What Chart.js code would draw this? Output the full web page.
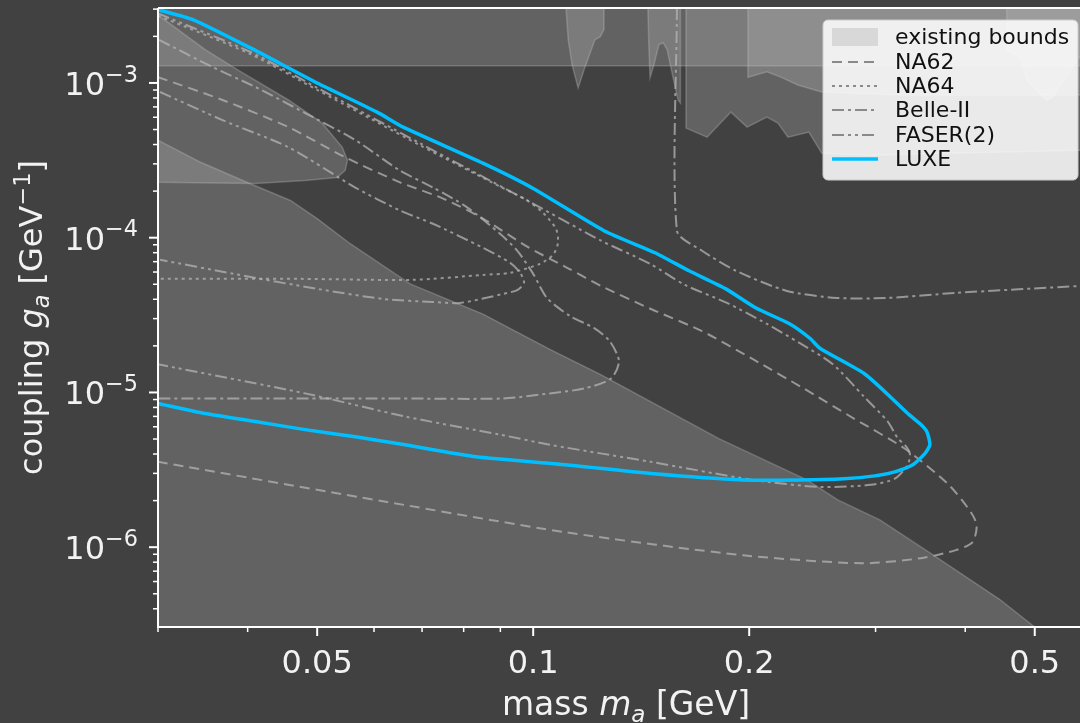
<!DOCTYPE html>
<html>
<head>
<meta charset="utf-8">
<script src="https://cdn.jsdelivr.net/npm/chart.js@4.4.0/dist/chart.umd.min.js"></script>
<style>
  html, body { margin: 0; padding: 0; background: #414141; overflow: hidden; }
  #wrap { width: 1080px; height: 723px; overflow: hidden; }
</style>
</head>
<body>
<div id="wrap"><canvas id="chart" width="1082" height="723"></canvas></div>
<script>
// axis ranges and ticks
const massMin = 0.03;
const massMax = 0.58;
const couplingMin = 3.05e-7;
const couplingMax = 3.05e-3;
const xMajorTicks = [0.05, 0.1, 0.2, 0.5];
const xTickLabels = ['0.05', '0.1', '0.2', '0.5'];
const xMinorTicks = [0.03, 0.04, 0.06, 0.07, 0.08, 0.09, 0.3, 0.4];
const yMajorTicks = [1e-3, 1e-4, 1e-5, 1e-6];
const yTickExponents = ['\u22123', '\u22124', '\u22125', '\u22126'];

const legendLabels = ['existing bounds', 'NA62', 'NA64', 'Belle-II', 'FASER(2)', 'LUXE'];

// LUXE projected reach (closed contour)
const luxeMass = [0.0300, 0.0336, 0.0403, 0.0500, 0.0606, 0.0659, 0.0851, 0.1000, 0.1255, 0.1478, 0.1649, 0.1856, 0.2044, 0.2279, 0.2430, 0.2509, 0.2889, 0.3120, 0.3327, 0.3458, 0.3537, 0.3571, 0.3514, 0.3381, 0.3191, 0.2993, 0.2710, 0.2353, 0.1961, 0.1473, 0.1108, 0.0833, 0.0663, 0.0565, 0.0481, 0.0410, 0.0349, 0.0300];
const luxeCoupling = [2.98e-3, 2.56e-3, 1.69e-3, 1.0e-3, 6.48e-4, 5.18e-4, 3.03e-4, 2.08e-4, 1.11e-4, 7.99e-5, 6.11e-5, 4.67e-5, 3.51e-5, 2.77e-5, 2.24e-5, 1.93e-5, 1.33e-5, 9.71e-6, 7.31e-6, 6.29e-6, 5.58e-6, 4.59e-6, 4.02e-6, 3.41e-6, 3.07e-6, 2.89e-6, 2.77e-6, 2.72e-6, 2.72e-6, 2.98e-6, 3.41e-6, 3.84e-6, 4.59e-6, 5.18e-6, 5.75e-6, 6.49e-6, 7.31e-6, 8.49e-6];

// NA62
const na62Mass = [0.0300, 0.0369, 0.0456, 0.0547, 0.0652, 0.0749, 0.0851, 0.0981, 0.1115, 0.1243, 0.1459, 0.1719, 0.2024, 0.2383, 0.2799, 0.3296, 0.3795, 0.4071, 0.4150, 0.4097, 0.3881, 0.3470, 0.2871, 0.1961, 0.1108, 0.0626, 0.0300];
const na62Coupling = [1.09e-3, 7.76e-4, 5.18e-4, 3.31e-4, 2.28e-4, 1.79e-4, 1.33e-4, 8.75e-5, 6.39e-5, 4.88e-5, 3.46e-5, 2.49e-5, 1.64e-5, 1.06e-5, 6.78e-6, 4.33e-6, 2.53e-6, 1.69e-6, 1.39e-6, 1.08e-6, 9.57e-7, 8.49e-7, 7.87e-7, 8.87e-7, 1.25e-6, 1.96e-6, 3.56e-6];

// NA64
const na64Mass = [0.0300, 0.0403, 0.0500, 0.0695, 0.0899, 0.0981, 0.1032, 0.1076, 0.1083, 0.1066, 0.1022, 0.0929, 0.0851, 0.0680, 0.0473, 0.0300];
const na64Coupling = [2.72e-3, 1.54e-3, 9.01e-4, 3.96e-4, 2.14e-4, 1.74e-4, 1.45e-4, 1.14e-4, 9.28e-5, 7.76e-5, 6.78e-5, 5.93e-5, 5.75e-5, 5.34e-5, 5.42e-5, 5.42e-5];

// Belle-II, low mass loop and high mass curve
const belleLowMass = [0.0301, 0.0357, 0.0410, 0.0481, 0.0565, 0.0652, 0.0725, 0.0809, 0.0899, 0.0950, 0.1000, 0.1045, 0.1125, 0.1215, 0.1279, 0.1317, 0.1284, 0.1177, 0.1055, 0.0908, 0.0652, 0.0300];
const belleLowCoupling = [1.90e-3, 1.27e-3, 9.42e-4, 6.39e-4, 4.27e-4, 2.72e-4, 2.11e-4, 1.57e-4, 1.06e-4, 8.24e-5, 5.84e-5, 4.08e-5, 3.12e-5, 2.61e-5, 2.14e-5, 1.59e-5, 1.23e-5, 1.06e-5, 9.86e-6, 9.14e-6, 9.14e-6, 9.14e-6];
const belleHighMass = [0.1586, 0.1586, 0.1719, 0.1917, 0.2257, 0.2650, 0.3120, 0.3881, 0.5800];
const belleHighCoupling = [3.05e-3, 1.11e-4, 8.24e-5, 6.11e-5, 4.53e-5, 4.08e-5, 4.08e-5, 4.40e-5, 4.88e-5];

// FASER and FASER2
const faserMass = [0.0302, 0.0369, 0.0456, 0.0565, 0.0652, 0.0725, 0.0851, 0.0929, 0.0959, 0.0971, 0.0950, 0.0908, 0.0791, 0.0725, 0.0618, 0.0500, 0.0382, 0.0302];
const faserCoupling = [8.74e-4, 5.75e-4, 3.84e-4, 2.11e-4, 1.50e-4, 1.23e-4, 8.61e-5, 6.88e-5, 5.93e-5, 5.10e-5, 4.59e-5, 4.33e-5, 3.79e-5, 3.84e-5, 4.02e-5, 4.67e-5, 5.84e-5, 7.20e-5];
const faser2Mass = [0.0300, 0.0403, 0.0500, 0.0695, 0.0981, 0.1243, 0.1455, 0.1627, 0.1862, 0.2117, 0.2353, 0.2616, 0.2889, 0.3120, 0.3223, 0.3296, 0.3349, 0.3327, 0.3191, 0.2954, 0.2509, 0.2024, 0.1459, 0.1055, 0.0899, 0.0663, 0.0481, 0.0300];
const faser2Coupling = [2.81e-3, 1.59e-3, 9.3e-4, 4.08e-4, 1.74e-4, 9.57e-5, 6.78e-5, 4.95e-5, 3.79e-5, 2.77e-5, 2.08e-5, 1.52e-5, 9.42e-6, 6.48e-6, 5.03e-6, 4.59e-6, 4.02e-6, 3.41e-6, 2.77e-6, 2.53e-6, 2.45e-6, 2.72e-6, 3.56e-6, 4.59e-6, 5.34e-6, 6.99e-6, 9.86e-6, 1.52e-5];

// existing bounds (shaded)
const bandMass = [0.03, 0.58];
const bandCoupling = [1.29e-3, 1.29e-3];
const dropMass = [0.0300, 0.0349, 0.0388, 0.0456, 0.0508, 0.0542, 0.0551, 0.0547, 0.0533, 0.0481, 0.0410, 0.0300, 0.0300];
const dropCoupling = [2.75e-3, 1.64e-3, 1.21e-3, 7.76e-4, 5.50e-4, 3.84e-4, 3.16e-4, 2.72e-4, 2.45e-4, 2.34e-4, 2.24e-4, 2.28e-4, 2.75e-3];
const dumpMass = [0.0300, 0.0344, 0.0399, 0.0459, 0.0500, 0.0556, 0.0674, 0.0851, 0.1055, 0.1240, 0.1815, 0.2407, 0.2658, 0.3042, 0.3560, 0.4471, 0.5000];
const dumpCoupling = [4.27e-4, 3.07e-4, 2.28e-4, 1.74e-4, 1.33e-4, 9.14e-5, 5.03e-5, 3.21e-5, 1.90e-5, 1.31e-5, 5.03e-6, 2.72e-6, 2.02e-6, 1.50e-6, 9.29e-7, 4.59e-7, 3.05e-7];
const spikeAMass = [0.1111, 0.1119, 0.1133, 0.1155, 0.1181, 0.1219, 0.1240, 0.1255, 0.1255];
const spikeACoupling = [3.05e-3, 1.90e-3, 1.31e-3, 9.29e-4, 1.27e-3, 1.90e-3, 1.99e-3, 2.21e-3, 3.05e-3];
const spikeBMass = [0.1445, 0.1450, 0.1455, 0.1473, 0.1497, 0.1517, 0.1537, 0.1566, 0.1592, 0.1604, 0.1604];
const spikeBCoupling = [3.05e-3, 1.64e-3, 1.08e-3, 1.31e-3, 1.77e-3, 1.82e-3, 1.64e-3, 1.09e-3, 7.76e-4, 7.41e-4, 3.05e-3];
const stepMass = [0.1633, 0.1633, 0.1747, 0.1886, 0.1986, 0.2117, 0.2193, 0.2265, 0.2422, 0.2525, 0.2945, 0.3808, 0.5800];
const stepCoupling = [3.05e-3, 5.11e-4, 4.46e-4, 6.48e-4, 5.18e-4, 6.02e-4, 5.50e-4, 4.46e-4, 4.81e-4, 3.51e-4, 3.41e-4, 3.51e-4, 3.67e-4];
const shelfMass = [0.1992, 0.1992, 0.2117, 0.2214, 0.2338, 0.2469, 0.2525, 0.3245, 0.4471, 0.5800];
const shelfCoupling = [3.05e-3, 1.09e-3, 1.18e-3, 1.09e-3, 9.70e-4, 9.01e-4, 8.74e-4, 8.36e-4, 8.36e-4, 8.36e-4];
const waveMass = [0.4570, 0.4570, 0.4766, 0.4874, 0.5196, 0.5296, 0.5647, 0.5800];
const waveCoupling = [3.05e-3, 1.64e-3, 1.48e-3, 1.05e-3, 7.76e-4, 8.11e-4, 1.27e-3, 1.52e-3];

const lineGray = 'rgba(180,180,180,0.75)';
const boundFill = 'rgba(200,200,200,0.25)';
const boundEdge = 'rgba(200,200,200,0.3)';
const luxeBlue = '#00bfff';
const dashNA62 = [10, 6];
const dashNA64 = [3, 4];
const dashBelle = [12, 4, 3, 4];
const dashFaser = [12, 4, 3, 4, 3, 4];

function pts(mass, coupling) {
  return mass.map((m, i) => ({ x: m, y: coupling[i] }));
}

function contour(mass, coupling, dash) {
  return {
    data: pts(mass, coupling),
    showLine: true,
    borderColor: lineGray,
    borderWidth: 2,
    borderDash: dash,
    pointRadius: 0,
    tension: 0.25,
    fill: false,
    order: 1,
  };
}

function bound(mass, coupling, fill) {
  return {
    data: pts(mass, coupling),
    showLine: true,
    borderColor: boundEdge,
    borderWidth: 1.5,
    backgroundColor: boundFill,
    pointRadius: 0,
    tension: 0,
    fill: fill,
    order: 2,
  };
}

const datasets = [
  {
    data: pts(luxeMass, luxeCoupling),
    showLine: true,
    borderColor: luxeBlue,
    borderWidth: 3.5,
    pointRadius: 0,
    tension: 0.2,
    fill: false,
    order: 0,
  },
  contour(na62Mass, na62Coupling, dashNA62),
  contour(na64Mass, na64Coupling, dashNA64),
  contour(belleLowMass, belleLowCoupling, dashBelle),
  contour(belleHighMass, belleHighCoupling, dashBelle),
  contour(faserMass, faserCoupling, dashFaser),
  contour(faser2Mass, faser2Coupling, dashFaser),
  bound(bandMass, bandCoupling, 'end'),
  bound(dropMass, dropCoupling, 'shape'),
  bound(dumpMass, dumpCoupling, 'start'),
  bound(spikeAMass, spikeACoupling, 'end'),
  bound(spikeBMass, spikeBCoupling, 'end'),
  bound(stepMass, stepCoupling, 'end'),
  bound(shelfMass, shelfCoupling, 'end'),
  bound(waveMass, waveCoupling, 'end'),
];

const font = '"DejaVu Sans", sans-serif';

function runFont(run, size) {
  const s = run.small ? size * 0.7 : size;
  return (run.italic ? 'italic ' : '') + s + 'px ' + font;
}

function runsWidth(ctx, runs, size) {
  let w = 0;
  runs.forEach(r => {
    ctx.font = runFont(r, size);
    w += ctx.measureText(r.text).width;
  });
  return w;
}

function drawRuns(ctx, runs, x, y, size) {
  runs.forEach(r => {
    ctx.font = runFont(r, size);
    ctx.fillText(r.text, x, y + (r.shift || 0) * size);
    x += ctx.measureText(r.text).width;
  });
}

const xTitle = [
  { text: 'mass ' },
  { text: 'm', italic: true },
  { text: 'a', italic: true, small: true, shift: 0.22 },
  { text: ' [GeV]' },
];
const yTitle = [
  { text: 'coupling ' },
  { text: 'g', italic: true },
  { text: 'a', italic: true, small: true, shift: 0.22 },
  { text: ' [GeV' },
  { text: '\u22121', small: true, shift: -0.38 },
  { text: ']' },
];

function drawLegend(ctx, area) {
  const w = 255, h = 160;
  const x0 = area.right - 258, y0 = area.top + 12;
  ctx.save();
  ctx.beginPath();
  ctx.roundRect(x0, y0, w, h, 5);
  ctx.fillStyle = 'rgba(255,255,255,0.87)';
  ctx.fill();
  ctx.strokeStyle = '#cccccc';
  ctx.lineWidth = 1;
  ctx.stroke();

  const rowY = [37, 62, 86, 110, 135, 159];
  const dashes = [null, dashNA62, dashNA64, dashBelle, dashFaser, []];
  ctx.font = '22px ' + font;
  ctx.textBaseline = 'middle';
  legendLabels.forEach((label, i) => {
    const y = rowY[i];
    if (i === 0) {
      ctx.fillStyle = '#d8d8d8';
      ctx.fillRect(x0 + 9, y - 9, 46, 18);
    } else {
      ctx.beginPath();
      ctx.setLineDash(dashes[i]);
      ctx.strokeStyle = i === 5 ? luxeBlue : '#8a8a8a';
      ctx.lineWidth = i === 5 ? 3.5 : 2;
      ctx.moveTo(x0 + 9, y);
      ctx.lineTo(x0 + 55, y);
      ctx.stroke();
      ctx.setLineDash([]);
    }
    ctx.fillStyle = '#111111';
    ctx.fillText(label, x0 + 72, y + 1);
  });
  ctx.restore();
}

const axesAndLegend = {
  id: 'axesAndLegend',
  afterDraw(chart) {
    const ctx = chart.ctx;
    const area = chart.chartArea;
    const xs = chart.scales.x;
    const ys = chart.scales.y;
    ctx.save();
    ctx.strokeStyle = '#ffffff';
    ctx.fillStyle = '#f2f2f2';
    ctx.lineWidth = 2;
    ctx.beginPath();
    ctx.moveTo(area.left, area.top);
    ctx.lineTo(area.right, area.top);
    ctx.moveTo(area.left, area.top);
    ctx.lineTo(area.left, area.bottom);
    ctx.lineTo(area.right, area.bottom);
    ctx.stroke();

    // x ticks
    xMajorTicks.forEach((v, i) => {
      const px = xs.getPixelForValue(v);
      ctx.lineWidth = 2;
      ctx.beginPath();
      ctx.moveTo(px, area.bottom);
      ctx.lineTo(px, area.bottom + 9);
      ctx.stroke();
      ctx.font = '32px ' + font;
      ctx.textAlign = 'center';
      ctx.textBaseline = 'alphabetic';
      ctx.fillText(xTickLabels[i], px, area.bottom + 46);
    });
    xMinorTicks.forEach(v => {
      const px = xs.getPixelForValue(v);
      ctx.lineWidth = 1.5;
      ctx.beginPath();
      ctx.moveTo(px, area.bottom);
      ctx.lineTo(px, area.bottom + 5);
      ctx.stroke();
    });

    // y ticks
    for (let e = -7; e <= -3; e++) {
      for (let k = 2; k <= 9; k++) {
        const v = k * Math.pow(10, e);
        if (v < couplingMin || v > couplingMax) continue;
        const py = ys.getPixelForValue(v);
        ctx.lineWidth = 1.5;
        ctx.beginPath();
        ctx.moveTo(area.left, py);
        ctx.lineTo(area.left - 5, py);
        ctx.stroke();
      }
    }
    ctx.textAlign = 'left';
    yMajorTicks.forEach((v, i) => {
      const py = ys.getPixelForValue(v);
      ctx.lineWidth = 2;
      ctx.beginPath();
      ctx.moveTo(area.left, py);
      ctx.lineTo(area.left - 9, py);
      ctx.stroke();
      const runs = [{ text: '10' }, { text: yTickExponents[i], small: true, shift: -0.42 }];
      const w = runsWidth(ctx, runs, 32);
      drawRuns(ctx, runs, area.left - 20 - w, py + 12, 32);
    });

    // axis titles
    ctx.textAlign = 'left';
    const xw = runsWidth(ctx, xTitle, 33);
    drawRuns(ctx, xTitle, 626 - xw / 2, area.bottom + 88, 33);

    ctx.save();
    ctx.translate(42, (area.top + area.bottom) / 2);
    ctx.rotate(-Math.PI / 2);
    const yw = runsWidth(ctx, yTitle, 32);
    drawRuns(ctx, yTitle, -yw / 2, 0, 32);
    ctx.restore();

    drawLegend(ctx, area);
    ctx.restore();
  }
};

const chart = new Chart(document.getElementById('chart').getContext('2d'), {
  type: 'scatter',
  data: { datasets: datasets },
  options: {
    responsive: false,
    animation: false,
    events: [],
    layout: { padding: { left: 158, top: 8, right: 1, bottom: 96 } },
    scales: {
      x: { type: 'logarithmic', min: massMin, max: massMax, display: false },
      y: { type: 'logarithmic', min: couplingMin, max: couplingMax, display: false },
    },
    plugins: {
      legend: { display: false },
      tooltip: { enabled: false },
    },
  },
  plugins: [axesAndLegend],
});
</script>
</body>
</html>
